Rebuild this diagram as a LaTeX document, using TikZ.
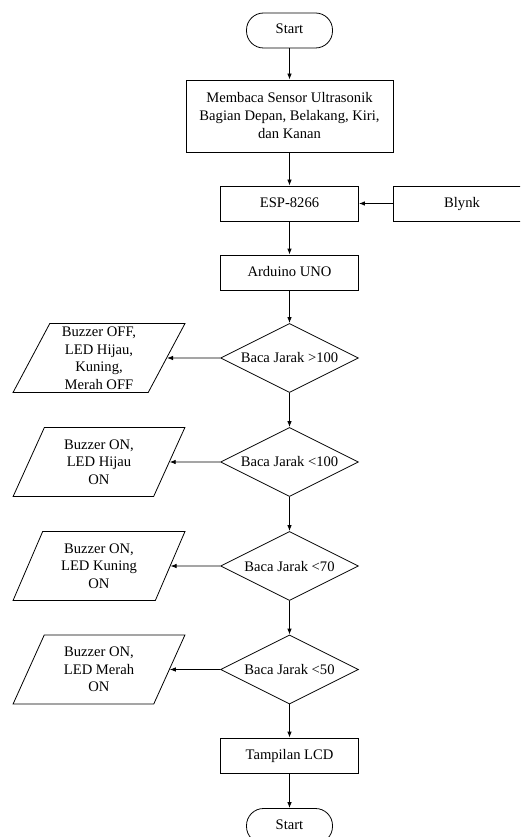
\documentclass[tikz,border=0pt]{standalone}
\usepackage{fontspec}
\setmainfont{Liberation Serif}
\usetikzlibrary{shapes.geometric, arrows.meta}

\begin{document}
\begin{tikzpicture}[x=1pt, y=1pt,
        every node/.style={font=\fontsize{14.6}{18}\selectfont, line width=0.8pt},
        terminal/.style={draw, rectangle, rounded corners=17pt, minimum width=86pt, minimum height=35pt, inner sep=0pt,
            text height=10pt, text depth=3pt},
        process/.style={draw, rectangle, minimum width=138pt, minimum height=35pt, inner sep=0pt, align=center,
            text height=10pt, text depth=3pt},
        decision/.style={draw, diamond, aspect=2, minimum width=138pt, minimum height=69pt, inner sep=0pt},
        iobox/.style={draw, trapezium, trapezium left angle=66, trapezium right angle=114, trapezium stretches=true,
            minimum width=172pt, minimum height=69pt, inner sep=0pt, align=center,
            font=\fontsize{14.6}{17.5}\selectfont},
        arrow/.style={line width=0.8pt, -{Latex[length=6pt, width=4.5pt]}}]
        \useasboundingbox (0, 0) rectangle (520, -837);
        \clip (0, 0) rectangle (520, -837);

        \node [terminal] (start) at (289.5, -30.5) {Start};
        \node [process, minimum width=207pt, minimum height=72pt, text height={}, text depth={}] (read) at (289.5, -116)
            {Membaca Sensor Ultrasonik\\Bagian Depan, Belakang, Kiri,\\dan Kanan};
        \node [process] (esp) at (289.5, -203.5) {ESP-8266};
        \node [process] (blynk) at (462, -203.5) {Blynk};
        \node [process] (uno) at (289.5, -272.5) {Arduino UNO};

        \node [decision] (d1) at (289.5, -358) {Baca Jarak >100};
        \node [decision] (d2) at (289.5, -462) {Baca Jarak <100};
        \node [decision] (d3) at (289.5, -566) {Baca Jarak <70};
        \node [decision] (d4) at (289.5, -669.5) {Baca Jarak <50};

        \node [iobox] (p1) at (99, -358) {Buzzer OFF,\\LED Hijau,\\Kuning,\\Merah OFF};
        \node [iobox] (p2) at (99, -462) {Buzzer ON,\\LED Hijau\\ON};
        \node [iobox] (p3) at (99, -566) {Buzzer ON,\\LED Kuning\\ON};
        \node [iobox] (p4) at (99, -669.5) {Buzzer ON,\\LED Merah\\ON};

        \node [process] (lcd) at (289.5, -755.5) {Tampilan LCD};
        \node [terminal] (stop) at (289.5, -826) {Start};

        \draw [arrow] (start) -- (read);
        \draw [arrow] (read) -- (esp);
        \draw [arrow] (blynk) -- (esp);
        \draw [arrow] (esp) -- (uno);
        \draw [arrow] (uno) -- (d1);
        \draw [arrow] (d1) -- (d2);
        \draw [arrow] (d2) -- (d3);
        \draw [arrow] (d3) -- (d4);
        \draw [arrow] (d4) -- (lcd);
        \draw [arrow] (lcd) -- (stop);

        \draw [arrow] (d1) -- (p1);
        \draw [arrow] (d2) -- (p2);
        \draw [arrow] (d3) -- (p3);
        \draw [arrow] (d4) -- (p4);
    \end{tikzpicture}
\end{document}
